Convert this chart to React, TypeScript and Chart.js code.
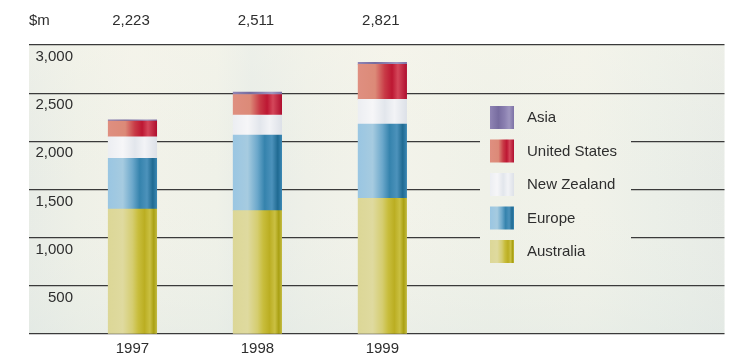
import { useEffect, useRef } from 'react';
import { Chart, registerables } from 'chart.js';

Chart.register(...registerables);

// Revenue by region, $m
const YEARS = ['1997', '1998', '1999'];
const AUSTRALIA = [1298, 1280, 1409];
const EUROPE = [526, 786, 771];
const NEW_ZEALAND = [224, 207, 256];
const UNITED_STATES = [163, 213, 363];
const ASIA = [12, 25, 22];

const UNIT_LABEL = '$m';
const FONT_FAMILY = '"Liberation Sans", Arial, Helvetica, sans-serif';
const TEXT_COLOR = '#2e2e2e';
const BAR_WIDTH = 48.5;

type Stop = [number, string];

// Striped fills: light on the left, deeper tones to the right
const AUSTRALIA_STOPS: Stop[] = [
  [0, '#dcd797'], [0.3, '#dfda9f'], [0.5, '#d5cd70'], [0.62, '#c8bd3c'],
  [0.75, '#bbae22'], [0.86, '#cac043'], [0.94, '#a9a012'], [1, '#c1b940'],
];
const EUROPE_STOPS: Stop[] = [
  [0, '#9ac6e2'], [0.3, '#a6cbe0'], [0.5, '#6ca8cb'], [0.65, '#3583ad'],
  [0.8, '#4c92bb'], [0.92, '#1f6a92'], [1, '#3a86b2'],
];
const NEW_ZEALAND_STOPS: Stop[] = [
  [0, '#eceef2'], [0.3, '#f6f6f8'], [0.55, '#e2e6ec'], [0.75, '#f2f3f6'], [1, '#dde1e8'],
];
const UNITED_STATES_STOPS: Stop[] = [
  [0, '#df8f80'], [0.35, '#dc8a78'], [0.55, '#c83a46'], [0.7, '#bd1733'],
  [0.82, '#d4475a'], [1, '#b01030'],
];
const ASIA_STOPS: Stop[] = [
  [0, '#8f84b4'], [0.35, '#776c9f'], [0.6, '#8a7fb0'], [0.8, '#9e95bf'], [1, '#7d72a6'],
];

const SERIES = [
  { label: 'Australia', data: AUSTRALIA, stops: AUSTRALIA_STOPS },
  { label: 'Europe', data: EUROPE, stops: EUROPE_STOPS },
  { label: 'New Zealand', data: NEW_ZEALAND, stops: NEW_ZEALAND_STOPS },
  { label: 'United States', data: UNITED_STATES, stops: UNITED_STATES_STOPS },
  { label: 'Asia', data: ASIA, stops: ASIA_STOPS },
];

const fmt = (v: number) => v.toLocaleString('en-US');

function gradientAcross(ctx: CanvasRenderingContext2D, left: number, width: number, stops: Stop[]) {
  const g = ctx.createLinearGradient(left, 0, left + width, 0);
  stops.forEach(([o, c]) => g.addColorStop(o, c));
  return g;
}

function barFill(stops: Stop[]) {
  return (context: any) => {
    const chart = context.chart;
    const xs = chart.scales?.x;
    if (!xs || !xs.width || context.type !== 'data') return stops[Math.floor(stops.length / 2)][1];
    const cx = xs.getPixelForValue(context.dataIndex);
    return gradientAcross(chart.ctx, cx - BAR_WIDTH / 2, BAR_WIDTH, stops);
  };
}

// Pale textured backdrop of the plotting area
function paintBackdrop(chart: any) {
  const { ctx, chartArea: a } = chart;
  const h = ctx.createLinearGradient(a.left, 0, a.right, 0);
  const hs: Stop[] = [
    [0, '#e8ece6'], [0.07, '#eef0e7'], [0.15, '#f2f2e9'], [0.27, '#eff1e8'],
    [0.32, '#e7ece7'], [0.4, '#eef0e8'], [0.52, '#f3f3ea'], [0.66, '#eff1e8'],
    [0.8, '#f1f2e9'], [0.9, '#ebefe8'], [1, '#e7ebe6'],
  ];
  hs.forEach(([o, c]) => h.addColorStop(o, c));
  ctx.fillStyle = h;
  ctx.fillRect(a.left, a.top, a.right - a.left, a.bottom - a.top);
  const v = ctx.createLinearGradient(0, a.top, 0, a.bottom);
  v.addColorStop(0, 'rgba(248,246,236,0.35)');
  v.addColorStop(0.5, 'rgba(240,242,232,0)');
  v.addColorStop(1, 'rgba(220,230,226,0.35)');
  ctx.fillStyle = v;
  ctx.fillRect(a.left, a.top, a.right - a.left, a.bottom - a.top);
}

const backdropPlugin = {
  id: 'backdrop',
  beforeDraw(chart: any) {
    const { ctx } = chart;
    ctx.save();
    paintBackdrop(chart);
    ctx.restore();
  },
};

// Value labels sitting just under each grid line, right aligned
const yLabelsPlugin = {
  id: 'yLabels',
  afterDraw(chart: any) {
    const { ctx } = chart;
    const ys = chart.scales.y;
    ctx.save();
    ctx.font = `15px ${FONT_FAMILY}`;
    ctx.fillStyle = TEXT_COLOR;
    ctx.textAlign = 'right';
    ctx.textBaseline = 'alphabetic';
    ys.ticks.forEach((t: any) => {
      if (t.value === 0) return;
      ctx.fillText(fmt(t.value), chart.chartArea.left + 44, ys.getPixelForValue(t.value) + 16);
    });
    ctx.restore();
  },
};

// Unit and yearly totals along the top
const totalsPlugin = {
  id: 'totals',
  afterDraw(chart: any) {
    const { ctx } = chart;
    const xs = chart.scales.x;
    ctx.save();
    ctx.font = `15px ${FONT_FAMILY}`;
    ctx.fillStyle = TEXT_COLOR;
    ctx.textBaseline = 'alphabetic';
    ctx.textAlign = 'left';
    ctx.fillText(UNIT_LABEL, chart.chartArea.left, 24.5);
    ctx.textAlign = 'center';
    YEARS.forEach((_, i) => {
      const total = chart.data.datasets.reduce((s: number, d: any) => s + d.data[i].y, 0);
      ctx.fillText(fmt(total), xs.getPixelForValue(i) - 1.5, 24.5);
    });
    ctx.restore();
  },
};

// Legend panel inside the plot, top entry first
const legendPlugin = {
  id: 'panelLegend',
  afterDatasetsDraw(chart: any) {
    const { ctx } = chart;
    const box = { left: 480, top: 96, right: 631, bottom: 270 };
    ctx.save();
    ctx.beginPath();
    ctx.rect(box.left, box.top, box.right - box.left, box.bottom - box.top);
    ctx.clip();
    paintBackdrop(chart);
    ctx.restore();

    ctx.save();
    ctx.font = `15px ${FONT_FAMILY}`;
    ctx.textBaseline = 'middle';
    ctx.textAlign = 'left';
    const items = [...SERIES].reverse();
    const sw = 24;
    const sh = 23;
    const rowGap = 33.5;
    items.forEach((s, i) => {
      const top = box.top + 10 + i * rowGap;
      const left = box.left + 10;
      ctx.fillStyle = gradientAcross(ctx, left, sw, s.stops);
      ctx.fillRect(left, top, sw, sh);
      ctx.fillStyle = TEXT_COLOR;
      ctx.fillText(s.label, left + 37, top + sh / 2 + 0.5);
    });
    ctx.restore();
  },
};

export default function App() {
  const canvasRef = useRef<HTMLCanvasElement | null>(null);

  useEffect(() => {
    if (!canvasRef.current) return;
    const chart = new Chart(canvasRef.current, {
      type: 'bar',
      data: {
        datasets: SERIES.map((s) => ({
          label: s.label,
          data: YEARS.map((_, i) => ({ x: i, y: s.data[i] })),
          backgroundColor: barFill(s.stops),
          borderWidth: 0,
          barThickness: BAR_WIDTH,
        })),
      },
      options: {
        responsive: false,
        animation: false,
        devicePixelRatio: 1,
        layout: { padding: { left: 29, right: 6.5, top: 45, bottom: 0 } },
        plugins: {
          legend: { display: false },
          tooltip: { enabled: false },
        },
        scales: {
          x: {
            type: 'linear',
            stacked: true,
            offset: false,
            min: -0.828,
            max: 4.738,
            grid: { display: false, drawTicks: false },
            border: { display: false },
            afterBuildTicks: (scale: any) => {
              scale.ticks = YEARS.map((_, i) => ({ value: i }));
            },
            afterFit: (scale: any) => {
              scale.height = 24;
            },
            ticks: {
              padding: 6,
              autoSkip: false,
              maxRotation: 0,
              color: TEXT_COLOR,
              font: { family: FONT_FAMILY, size: 15 },
              callback: (v: any) => YEARS[Number(v)] ?? '',
            },
          },
          y: {
            stacked: true,
            min: 0,
            max: 3000,
            ticks: { display: false, stepSize: 500 },
            grid: { color: '#3a3a3a', lineWidth: 1.3, drawTicks: false },
            border: { display: false },
          },
        },
      },
      plugins: [backdropPlugin, legendPlugin, yLabelsPlugin, totalsPlugin],
    } as any);
    return () => chart.destroy();
  }, []);

  return (
    <div style={{ position: 'absolute', left: 0, top: 0, width: 731, height: 358, background: '#ffffff' }}>
      <canvas ref={canvasRef} width={731} height={358} style={{ display: 'block' }} />
    </div>
  );
}
